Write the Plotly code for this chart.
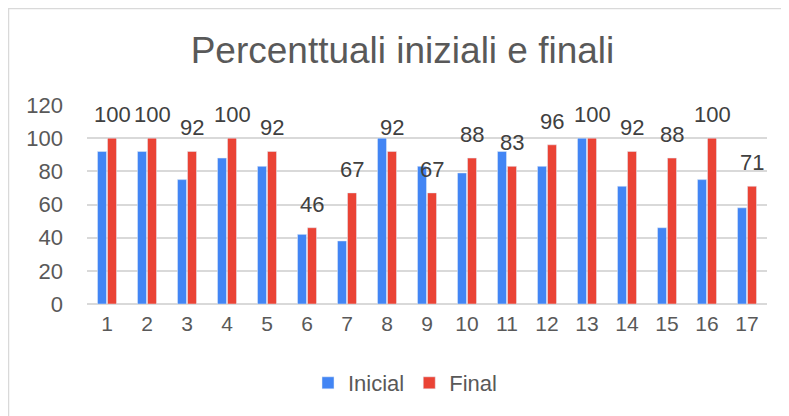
import plotly.graph_objects as go

categories = [str(i) for i in range(1, 18)]
inicial = [92, 92, 75, 88, 83, 42, 38, 100, 83, 79, 92, 83, 100, 71, 46, 75, 58]
final = [100, 100, 92, 100, 92, 46, 67, 92, 67, 88, 83, 96, 100, 92, 88, 100, 71]
y_ticks = [0, 20, 40, 60, 80, 100, 120]

W, H = 789, 416
L, R, T, B = 79, 30, 97, 120
pw, ph = W - L - R, H - T - B

font_family = "Liberation Sans, Arial, sans-serif"

fig = go.Figure()
fig.add_trace(go.Bar(x=categories, y=inicial, name="Inicial", marker_color="#4285F4"))
fig.add_trace(go.Bar(x=categories, y=final, name="Final", marker_color="#EA4335"))

# value labels above the Final bars (category index positions on the categorical axis)
for i, v in enumerate(final):
    fig.add_annotation(x=i, y=v, xref="x", yref="y", text=str(v), showarrow=False,
                       xanchor="center", yanchor="bottom", xshift=5, yshift=9,
                       font=dict(size=22, color="#404040", family=font_family))

fig.update_layout(
    width=W, height=H,
    margin=dict(l=L, r=R, t=T, b=B, pad=0),
    paper_bgcolor="white", plot_bgcolor="white",
    barmode="group", bargap=0.5, bargroupgap=0.1,
    font=dict(family=font_family, color="#595959"),
    title=dict(text="Percenttuali iniziali e finali", x=0.5, xref="container", xanchor="center",
               y=1 - 42 / H, yanchor="middle",
               font=dict(size=37, color="#595959", family=font_family)),
    xaxis=dict(type="category", categoryorder="array", categoryarray=categories,
               range=[-0.5, len(categories) - 0.5],
               showgrid=False, showline=False, ticks="", tickfont=dict(size=21, color="#595959"),
               ticklabelstandoff=5),
    yaxis=dict(range=[0, 120], tickvals=y_ticks, showgrid=True, gridcolor="#D9D9D9", gridwidth=1.5,
               zeroline=True, zerolinecolor="#D9D9D9", zerolinewidth=1.5,
               showline=False, ticks="", tickfont=dict(size=22, color="#595959"),
               ticklabelstandoff=23),
    legend=dict(orientation="h", x=(300 - L) / pw, xanchor="left", y=-(375 - T - ph) / ph,
                yanchor="middle", font=dict(size=22, color="#595959"), itemwidth=30),
    showlegend=True,
    shapes=[dict(type="rect", xref="paper", yref="paper",
                 x0=-(L - 0.5) / pw, x1=1 + (R + 20) / pw,
                 y0=-(B + 20) / ph, y1=1 + (T - 0.5) / ph,
                 line=dict(color="#D9D9D9", width=1.5), layer="below")],
)

fig.write_html("out.html")
